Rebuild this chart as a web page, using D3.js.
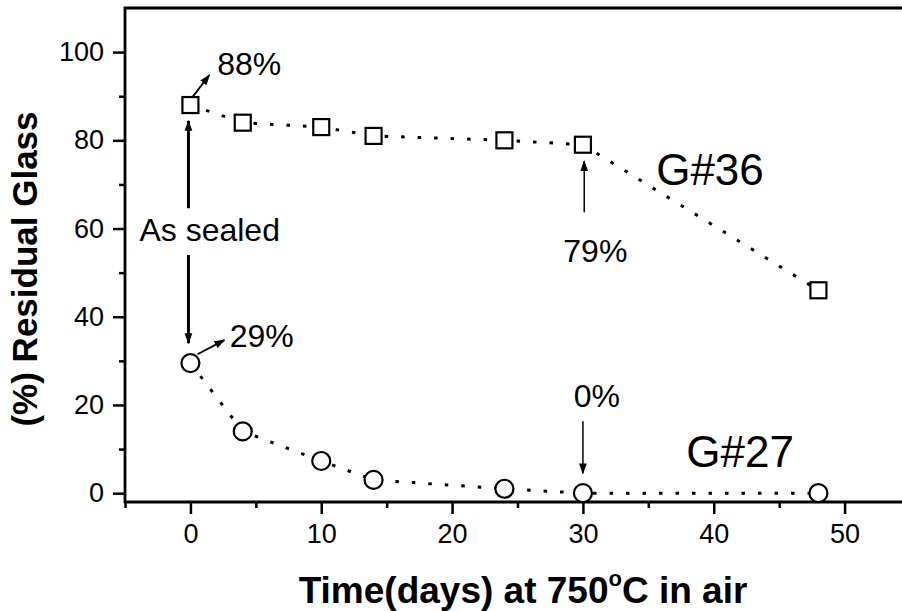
<!DOCTYPE html>
<html>

<head>
	<meta charset="utf-8">
	<title>Residual Glass</title>
	<script src="https://d3js.org/d3.v7.min.js"></script>
	<style>
		body { margin: 0; background: #fff; }
		text { font-family: Arial, "Liberation Sans", sans-serif; fill: #000; }
	</style>
</head>

<body>
	<script>
		// Data
		const days = [0, 4, 10, 14, 24, 30, 48];
		const g36 = [88, 84, 83, 81, 80, 79, 46];
		const g27 = [29.5, 14, 7.3, 3, 1, 0, 0];

		const yMajor = [0, 20, 40, 60, 80, 100];
		const yMinor = [10, 30, 50, 70, 90];
		const xMajor = [0, 10, 20, 30, 40, 50];
		const xMinor = [-5, 5, 15, 25, 35, 45];

		// annotation arrows in data units: [x1, y1, x2, y2, width]
		const arrows = [
			[-0.15, 64.6, -0.15, 84.4, 3],
			[-0.15, 54, -0.15, 34, 3],
			[0.15, 89.8, 1.45, 94.8, 1.8],
			[0.54, 31.5, 2.6, 34.7, 1.8],
			[30.1, 63.7, 30.1, 75.3, 1.5],
			[30, 16.3, 30, 4.5, 1.5]
		];
		// labels: [text, x, y, size]
		const labels = [
			['88%', 2.05, 94.8, 32],
			['As sealed', -3.9, 57.2, 32],
			['29%', 3, 33.1, 32],
			['79%', 28.5, 52.4, 32],
			['0%', 29.3, 19.5, 32],
			['G#36', 35.6, 69.8, 44],
			['G#27', 37.9, 5.9, 44]
		];

		const W = 902, H = 611;
		const svg = d3.select('body')
			.append('svg')
			.attr('width', W)
			.attr('height', H);

		const x = d3.scaleLinear().domain([-5, 55]).range([125, 910]);
		const y = d3.scaleLinear().domain([-2, 110]).range([502, 8]);

		svg.append('defs').append('marker')
			.attr('id', 'head')
			.attr('viewBox', '0 0 10 10')
			.attr('refX', 9).attr('refY', 5)
			.attr('markerUnits', 'userSpaceOnUse')
			.attr('markerWidth', 11).attr('markerHeight', 11)
			.attr('orient', 'auto')
			.append('path')
			.attr('d', 'M0,1.5 L10,5 L0,8.5 Z')
			.attr('fill', '#000');

		// axes
		const axisStyle = g => {
			g.select('.domain').remove();
			g.selectAll('line').attr('stroke', '#000').attr('stroke-width', 2.5);
			g.selectAll('text').style('font-size', '27px').style('font-family', 'Arial, "Liberation Sans", sans-serif');
		};

		svg.append('g')
			.attr('transform', 'translate(125,0)')
			.call(d3.axisLeft(y).tickValues(yMajor).tickSize(12).tickPadding(9))
			.call(axisStyle);
		svg.append('g')
			.attr('transform', 'translate(125,0)')
			.call(d3.axisLeft(y).tickValues(yMinor).tickSize(6).tickFormat(''))
			.call(axisStyle);
		svg.append('g')
			.attr('transform', 'translate(0,502)')
			.call(d3.axisBottom(x).tickValues(xMajor).tickSize(12).tickPadding(10))
			.call(axisStyle);
		svg.append('g')
			.attr('transform', 'translate(0,502)')
			.call(d3.axisBottom(x).tickValues(xMinor).tickSize(6).tickFormat(''))
			.call(axisStyle);

		// frame lines: left, bottom, top
		svg.append('path')
			.attr('d', `M${W},${y(110)} H${x(-5)} V${y(-2)} H${W}`)
			.attr('fill', 'none')
			.attr('stroke', '#000')
			.attr('stroke-width', 2.8);

		// dotted connecting lines
		const line = d3.line().x(d => x(d[0])).y(d => y(d[1]));
		[g36, g27].forEach(s => {
			svg.append('path')
				.attr('d', line(days.map((d, i) => [d, s[i]])))
				.attr('fill', 'none')
				.attr('stroke', '#000')
				.attr('stroke-width', 3)
				.attr('stroke-dasharray', '3.5,13');
		});

		// markers
		svg.selectAll('rect.sq')
			.data(days)
			.enter()
			.append('rect')
			.attr('x', (d, i) => x(d) - 8)
			.attr('y', (d, i) => y(g36[i]) - 8)
			.attr('width', 16)
			.attr('height', 16)
			.attr('fill', '#fff')
			.attr('stroke', '#000')
			.attr('stroke-width', 2.2);

		svg.selectAll('circle')
			.data(days)
			.enter()
			.append('circle')
			.attr('cx', d => x(d))
			.attr('cy', (d, i) => y(g27[i]))
			.attr('r', 9)
			.attr('fill', '#fff')
			.attr('stroke', '#000')
			.attr('stroke-width', 2.2);

		// arrows
		svg.selectAll('line.arrow')
			.data(arrows)
			.enter()
			.append('line')
			.attr('class', 'arrow')
			.attr('x1', d => x(d[0]))
			.attr('y1', d => y(d[1]))
			.attr('x2', d => x(d[2]))
			.attr('y2', d => y(d[3]))
			.attr('stroke', '#000')
			.attr('stroke-width', d => d[4])
			.attr('marker-end', 'url(#head)');

		// labels
		svg.selectAll('text.lab')
			.data(labels)
			.enter()
			.append('text')
			.attr('class', 'lab')
			.attr('x', d => x(d[1]))
			.attr('y', d => y(d[2]))
			.style('font-size', d => d[3] + 'px')
			.text(d => d[0]);

		// axis titles
		svg.append('text')
			.attr('transform', 'translate(37,269) rotate(-90)')
			.attr('text-anchor', 'middle')
			.style('font-size', '35px')
			.style('font-weight', 'bold')
			.text('(%) Residual Glass');

		const xt = svg.append('text')
			.attr('x', 523)
			.attr('y', 603)
			.attr('text-anchor', 'middle')
			.style('font-size', '37px')
			.style('font-weight', 'bold');
		xt.append('tspan').text('Time(days) at 750');
		xt.append('tspan').attr('dy', -17).style('font-size', '22px').text('o');
		xt.append('tspan').attr('dy', 17).text('C in air');
	</script>
</body>

</html>
